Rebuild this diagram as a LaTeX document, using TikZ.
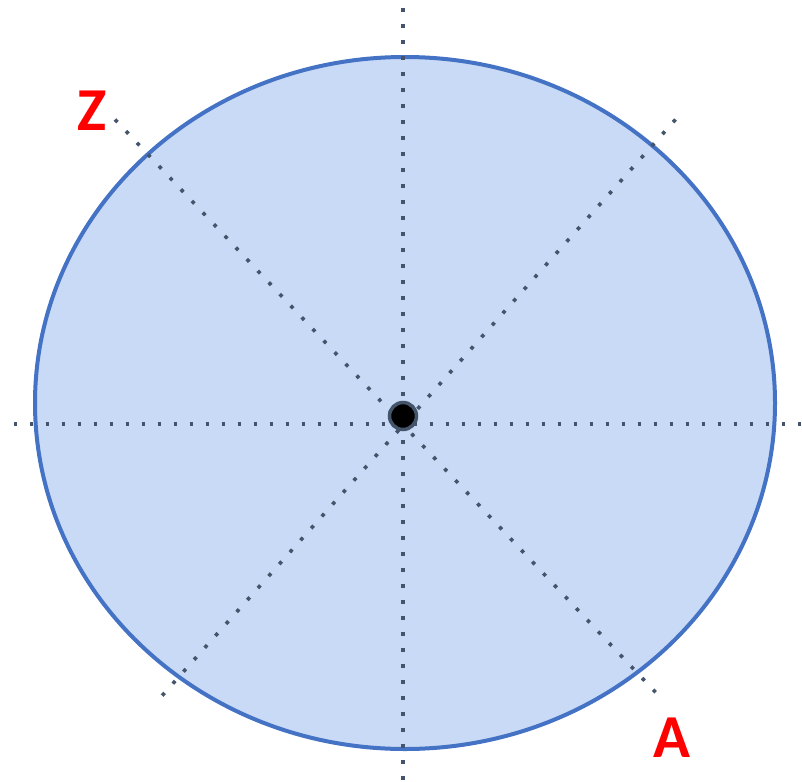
\documentclass[tikz,border=0pt]{standalone}
\usepackage{fontspec}
\setmainfont{Carlito}
\definecolor{ringblue}{HTML}{4472C4}
\definecolor{fillblue}{HTML}{C9DAF6}
\definecolor{slate}{HTML}{44546A}
\tikzset{
  guide/.style={draw=slate, line width=3.6pt, dash pattern=on 3.6pt off 12.4pt},
  lettertag/.style={text=red, font=\bfseries\fontsize{61}{61}\selectfont, inner sep=0pt}
}
\begin{document}
\begin{tikzpicture}[x=1pt,y=-1pt]
\useasboundingbox (0,0) rectangle (802,781);
\draw[ringblue, line width=4pt, fill=fillblue] (405,403) ellipse [x radius=370, y radius=346];
\coordinate (hl) at (13.5,424);
\coordinate (hr) at (802,424);
\coordinate (vt) at (403,8);
\coordinate (vb) at (403,781);
\coordinate (d1a) at (115,119.5);
\coordinate (d1b) at (660,697);
\coordinate (d2a) at (675.5,119.5);
\coordinate (d2b) at (160,698);
\draw[guide] (hl) -- (hr);
\draw[guide] (vt) -- (vb);
\draw[guide] (d1a) -- (d1b);
\draw[guide] (d2a) -- (d2b);
\node[circle, fill=black, draw=slate, line width=3.5pt, minimum size=27pt, inner sep=0pt] (ctr) at (403,416) {};
\node[lettertag] (z) at (92,111) {Z};
\node[lettertag] (a) at (672,738) {A};
\end{tikzpicture}
\end{document}
